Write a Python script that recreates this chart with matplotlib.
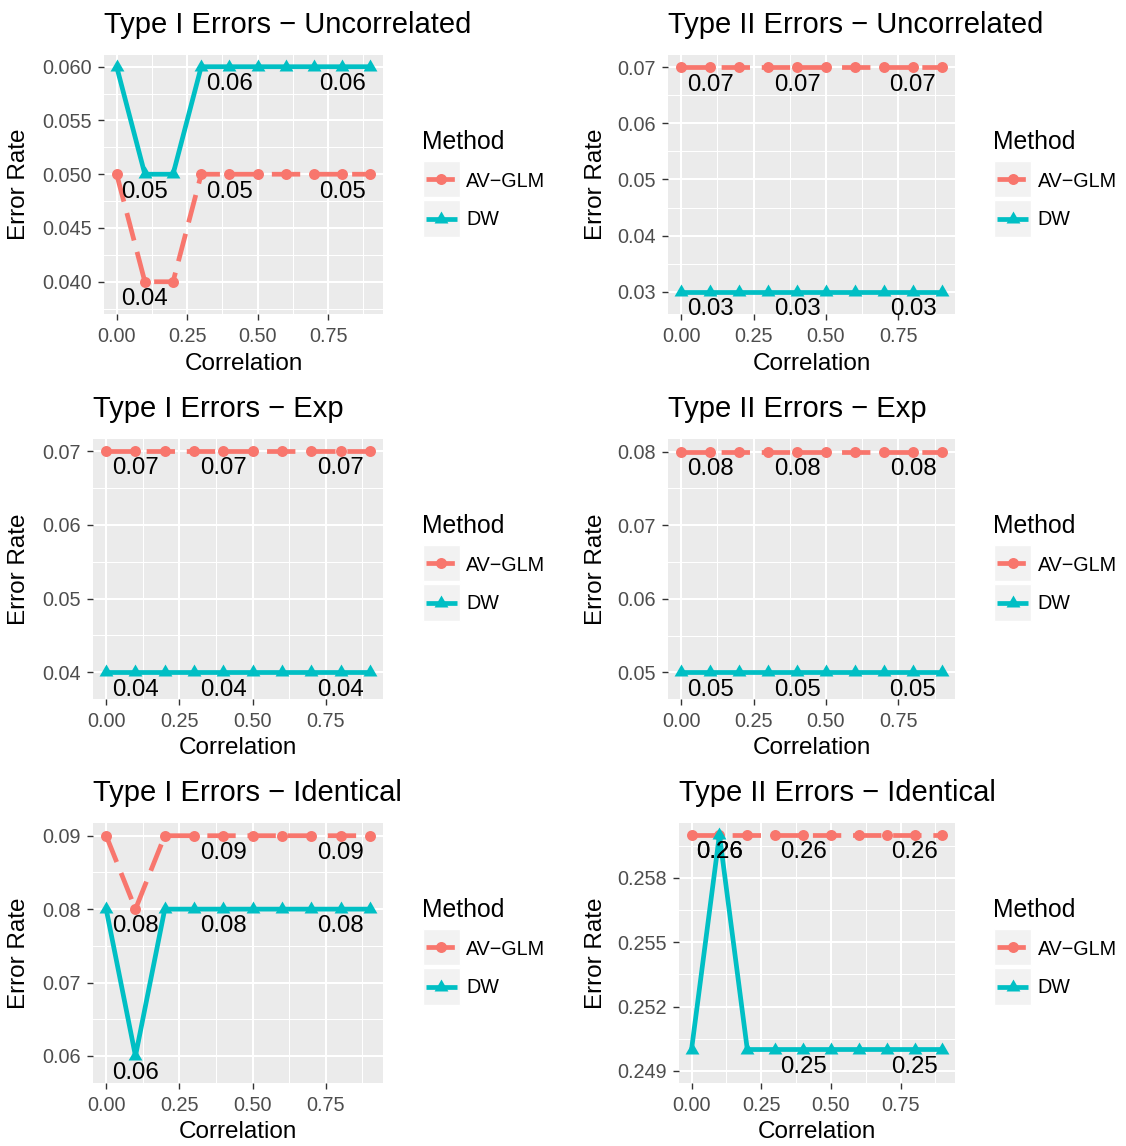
import matplotlib
matplotlib.use('Agg')
import matplotlib.pyplot as plt
from matplotlib.lines import Line2D
from matplotlib.patches import Rectangle
from matplotlib.path import Path

plt.rcParams['font.family'] = ['Liberation Sans', 'DejaVu Sans']

corr = [0.0, 0.1, 0.2, 0.3, 0.4, 0.5, 0.6, 0.7, 0.8, 0.9]
methods = ['AV\u2212GLM', 'DW']

titles = ['Type I Errors \u2212 Uncorrelated', 'Type II Errors \u2212 Uncorrelated',
          'Type I Errors \u2212 Exp', 'Type II Errors \u2212 Exp',
          'Type I Errors \u2212 Identical', 'Type II Errors \u2212 Identical']

av_glm = [
    [0.05, 0.04, 0.04, 0.05, 0.05, 0.05, 0.05, 0.05, 0.05, 0.05],
    [0.07, 0.07, 0.07, 0.07, 0.07, 0.07, 0.07, 0.07, 0.07, 0.07],
    [0.07, 0.07, 0.07, 0.07, 0.07, 0.07, 0.07, 0.07, 0.07, 0.07],
    [0.08, 0.08, 0.08, 0.08, 0.08, 0.08, 0.08, 0.08, 0.08, 0.08],
    [0.09, 0.08, 0.09, 0.09, 0.09, 0.09, 0.09, 0.09, 0.09, 0.09],
    [0.26, 0.26, 0.26, 0.26, 0.26, 0.26, 0.26, 0.26, 0.26, 0.26],
]
dw = [
    [0.06, 0.05, 0.05, 0.06, 0.06, 0.06, 0.06, 0.06, 0.06, 0.06],
    [0.03, 0.03, 0.03, 0.03, 0.03, 0.03, 0.03, 0.03, 0.03, 0.03],
    [0.04, 0.04, 0.04, 0.04, 0.04, 0.04, 0.04, 0.04, 0.04, 0.04],
    [0.05, 0.05, 0.05, 0.05, 0.05, 0.05, 0.05, 0.05, 0.05, 0.05],
    [0.08, 0.06, 0.08, 0.08, 0.08, 0.08, 0.08, 0.08, 0.08, 0.08],
    [0.25, 0.26, 0.25, 0.25, 0.25, 0.25, 0.25, 0.25, 0.25, 0.25],
]

yticks = [
    [0.040, 0.045, 0.050, 0.055, 0.060],
    [0.03, 0.04, 0.05, 0.06, 0.07],
    [0.04, 0.05, 0.06, 0.07],
    [0.05, 0.06, 0.07, 0.08],
    [0.06, 0.07, 0.08, 0.09],
    [0.249, 0.252, 0.255, 0.258],
]
ydigits = [3, 2, 2, 2, 2, 3]
ylims = [(0.03700, 0.06109), (0.02602, 0.07219), (0.03638, 0.07163),
         (0.04637, 0.08173), (0.05632, 0.09173), (0.24844, 0.26055)]
label_idx = [1, 4, 8]

W, H = 1126, 1146
# plot areas in pixels: left, top, right, bottom
boxes = [(104, 55, 383, 314), (668, 55, 955, 314),
         (93, 439, 383, 699), (668, 439, 955, 699),
         (93, 823, 383, 1083), (679, 823, 955, 1083)]

red, teal = '#F8766D', '#00BFC4'
lw = 3.4
# filled equilateral triangle, like ggplot shape 17
tri = Path([(0, 0.577), (-0.5, -0.289), (0.5, -0.289), (0, 0.577)],
           [Path.MOVETO, Path.LINETO, Path.LINETO, Path.CLOSEPOLY])
styles = [dict(color=red, marker='o', markersize=7.9, dashes=(6, 2.5)),
          dict(color=teal, marker=tri, markersize=11.5)]

fig = plt.figure(figsize=(W / 100, H / 100), dpi=100)


def fx(px):
    return px / W


def fy(py):
    return 1 - py / H


for i in range(6):
    l, t, r, b = boxes[i]
    col = i % 2
    oy = (i // 2) * 384
    ax = fig.add_axes([fx(l), fy(b), (r - l) / W, (b - t) / H])
    ax.set_facecolor('#EBEBEB')
    for s in ax.spines.values():
        s.set_visible(False)

    ax.set_xlim(-0.045, 0.945)
    ax.set_xticks([0, 0.25, 0.5, 0.75])
    ax.set_xticklabels(['0.00', '0.25', '0.50', '0.75'])
    ax.set_xticks([0.125, 0.375, 0.625, 0.875], minor=True)
    yt = yticks[i]
    ax.set_yticks(yt)
    ax.set_yticklabels([f'{v:.{ydigits[i]}f}' for v in yt])
    step = yt[1] - yt[0]
    ax.set_yticks([yt[0] - step / 2] + [v + step / 2 for v in yt], minor=True)
    ax.set_ylim(*ylims[i])

    ax.grid(which='major', color='white', lw=1.5)
    ax.grid(which='minor', color='white', lw=0.75)
    ax.set_axisbelow(True)
    ax.tick_params(which='major', length=4.1, width=1.0, color='#333333',
                   labelcolor='#4D4D4D', labelsize=14.3)
    ax.tick_params(axis='x', pad=5.0)
    ax.tick_params(axis='y', pad=4.6)
    ax.tick_params(which='minor', length=0)

    for vals, st in zip([av_glm[i], dw[i]], styles):
        ax.plot(corr, vals, lw=lw, markeredgewidth=0, solid_capstyle='butt',
                dash_capstyle='butt', **st)
    for vals in [av_glm[i], dw[i]]:
        for k in label_idx:
            ax.annotate(f'{vals[k]:.2f}', (corr[k], vals[k]), xytext=(0, -16.8),
                        textcoords='offset points', ha='center', va='baseline',
                        fontsize=17.3, color='black')

    ax.set_title(titles[i], loc='left', fontsize=21, pad=15.6)
    ax.set_xlabel('Correlation', fontsize=17.5)
    ax.xaxis.set_label_coords(0.5, (b - (364 + oy)) / (b - t))
    ax.xaxis.label.set_verticalalignment('center')
    ax.set_ylabel('Error Rate', fontsize=17.5)
    ylab_x = 19.3 if col == 0 else 595.7
    ax.yaxis.set_label_coords((ylab_x - l) / (r - l), 0.5)
    ax.yaxis.label.set_verticalalignment('center')

    # legend
    lx = 421.7 if col == 0 else 993
    fig.text(fx(lx), fy(149.3 + oy), 'Method', fontsize=17.8, va='baseline', ha='left')
    key_rows = [(160.7, 197.3, 186.7), (200, 237.3, 225)]
    for (kt, kb, base), name, st in zip(key_rows, methods, styles):
        kl = lx + 1
        fig.add_artist(Rectangle((fx(kl), fy(kb + oy)), 37 / W, (kb - kt) / H,
                                 transform=fig.transFigure, facecolor='#F2F2F2',
                                 edgecolor='white', lw=1))
        ym = fy((kt + kb) / 2 + oy)
        line_kw = dict(color=st['color'], lw=lw, solid_capstyle='butt', dash_capstyle='butt')
        if 'dashes' in st:
            line_kw['dashes'] = st['dashes']
        fig.add_artist(Line2D([fx(kl + 3), fx(kl + 34)], [ym, ym],
                              transform=fig.transFigure, **line_kw))
        fig.add_artist(Line2D([fx(kl + 18.5)], [ym], transform=fig.transFigure,
                              marker=st['marker'], markersize=st['markersize'],
                              color=st['color'], markeredgewidth=0, linestyle='none'))
        fig.text(fx(kl + 43.5), fy(base + oy), name, fontsize=14.2, va='baseline', ha='left')

fig.savefig('out.png', dpi=100)
